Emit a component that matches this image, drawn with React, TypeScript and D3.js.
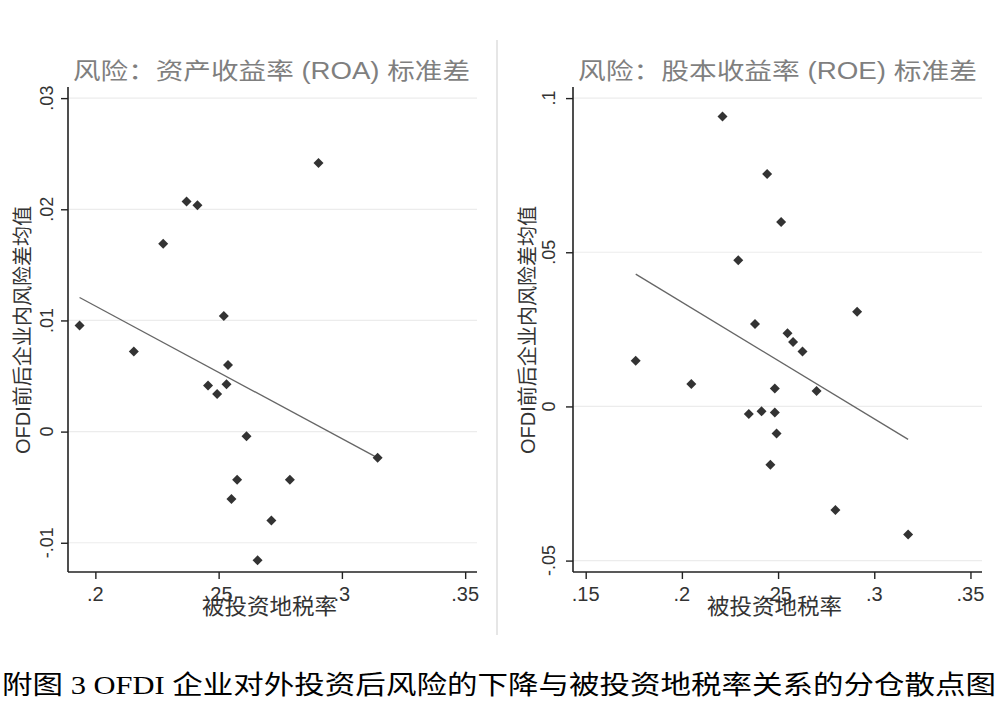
import * as d3 from "d3";
import React, { useEffect, useRef } from "react";

// 分仓散点：左图 ROA，右图 ROE
const roaTaxRate = [
  0.1936, 0.2156, 0.2275, 0.237, 0.2414, 0.2457, 0.2494, 0.2521, 0.2532,
  0.2538, 0.2552, 0.2575, 0.2613, 0.2658, 0.2714, 0.2789, 0.2905, 0.3145,
];
const roaRisk = [
  0.00954, 0.0072, 0.0169, 0.0207, 0.02036, 0.00415, 0.00339, 0.0104, 0.00426,
  0.006, -0.00607, -0.00434, -0.00041, -0.01158, -0.008, -0.00434, 0.02416,
  -0.00236,
];
const roaFit = { intercept: 0.03515, slope: -0.11927 };

const roeTaxRate = [
  0.176, 0.2049, 0.2211, 0.2293, 0.2348, 0.238, 0.2414, 0.2443, 0.246, 0.2483,
  0.2483, 0.2492, 0.2516, 0.2549, 0.2578, 0.2627, 0.27, 0.2798, 0.2911, 0.3176,
];
const roeRisk = [
  0.0148, 0.00724, 0.094, 0.0474, -0.00248, 0.0267, -0.0016, 0.0754, -0.0189,
  0.00585, -0.00195, -0.00875, 0.0598, 0.0237, 0.0209, 0.0178, 0.00497,
  -0.0336, 0.0307, -0.0415,
];
const roeFit = { intercept: 0.10952, slope: -0.3785 };

const roaXTicks = [0.2, 0.25, 0.3, 0.35];
const roaYTicks = [-0.01, 0, 0.01, 0.02, 0.03];
const roeXTicks = [0.15, 0.2, 0.25, 0.3, 0.35];
const roeYTicks = [-0.05, 0, 0.05, 0.1];

const titles = ["风险：资产收益率 (ROA) 标准差", "风险：股本收益率 (ROE) 标准差"];
const yLabel = "OFDI前后企业内风险差均值";
const xLabel = "被投资地税率";
const caption = "附图 3 OFDI 企业对外投资后风险的下降与被投资地税率关系的分仓散点图";

const sans = "'Liberation Sans', Arial, 'Noto Sans CJK SC', sans-serif";
const cjk = "'Liberation Sans', 'Noto Sans CJK SC', sans-serif";

// Stata 风格的刻度：去掉前导 0，普通连字符做负号
const stataFmt = (v: number) => {
  if (v === 0) return "0";
  const s = String(+Math.abs(v).toFixed(4)).replace(/^0\./, ".");
  return (v < 0 ? "-" : "") + s;
};

interface PanelProps {
  left: number;
  right: number;
  xDomain: [number, number];
  yDomain: [number, number];
  xs: number[];
  ys: number[];
  fit: { intercept: number; slope: number };
  xTicks: number[];
  yTicks: number[];
  title: string;
  titleX: number;
  titleLen: number;
  yLabelX: number;
  yTickOffset: number;
}

const top = 87;
const bottom = 572;

const Panel: React.FC<PanelProps> = (p) => {
  const ref = useRef<SVGGElement>(null);

  useEffect(() => {
    if (!ref.current) return;
    const g = d3.select(ref.current);
    g.selectAll("*").remove();

    const x = d3.scaleLinear().domain(p.xDomain).range([p.left, p.right]);
    const y = d3.scaleLinear().domain(p.yDomain).range([bottom, top]);

    // gridlines
    g.selectAll(".grid")
      .data(p.yTicks)
      .enter()
      .append("line")
      .attr("x1", p.left)
      .attr("x2", p.right)
      .attr("y1", (d) => y(d))
      .attr("y2", (d) => y(d))
      .attr("stroke", "#ececec")
      .attr("stroke-width", 1.2);

    // y axis
    const ya = g
      .append("g")
      .attr("transform", `translate(${p.left},0)`)
      .call(d3.axisLeft(y).tickValues(p.yTicks).tickSize(7).tickFormat(() => ""));
    ya.select(".domain").attr("d", `M-0,${top}V${bottom}`).attr("stroke", "#222").attr("stroke-width", 1.6);
    ya.selectAll(".tick line").attr("stroke", "#222").attr("stroke-width", 1.4);

    g.selectAll(".ytl")
      .data(p.yTicks)
      .enter()
      .append("text")
      .attr("transform", (d) => `translate(${p.left - p.yTickOffset},${y(d)}) rotate(-90)`)
      .attr("text-anchor", "middle")
      .attr("dy", "0.36em")
      .style("font-family", sans)
      .style("font-size", "18px")
      .attr("fill", "#333")
      .text((d) => stataFmt(d));

    // x axis
    const xa = g
      .append("g")
      .attr("transform", `translate(0,${bottom})`)
      .call(d3.axisBottom(x).tickValues(p.xTicks).tickSize(7).tickFormat(() => ""));
    xa.select(".domain").attr("d", `M${p.left},0H${p.right}`).attr("stroke", "#222").attr("stroke-width", 1.6);
    xa.selectAll(".tick line").attr("stroke", "#222").attr("stroke-width", 1.4);

    g.selectAll(".xtl")
      .data(p.xTicks)
      .enter()
      .append("text")
      .attr("x", (d) => x(d))
      .attr("y", 601)
      .attr("text-anchor", "middle")
      .style("font-family", sans)
      .style("font-size", "20px")
      .attr("fill", "#333")
      .text((d) => stataFmt(d));

    // fitted line
    const [x0, x1] = d3.extent(p.xs) as [number, number];
    const line = d3
      .line<number>()
      .x((d) => x(d))
      .y((d) => y(p.fit.intercept + p.fit.slope * d));
    g.append("path")
      .datum([x0, x1])
      .attr("d", line)
      .attr("fill", "none")
      .attr("stroke", "#666")
      .attr("stroke-width", 1.3);

    // markers
    const diamond = d3.symbol().type(d3.symbolSquare).size(50);
    g.selectAll(".pt")
      .data(p.xs.map((v, i) => [v, p.ys[i]]))
      .enter()
      .append("path")
      .attr("d", diamond)
      .attr("transform", (d) => `translate(${x(d[0])},${y(d[1])}) rotate(45)`)
      .attr("fill", "#333");

    // title
    g.append("text")
      .attr("x", p.titleX)
      .attr("y", 79)
      .attr("text-anchor", "middle")
      .attr("textLength", p.titleLen)
      .attr("lengthAdjust", "spacingAndGlyphs")
      .style("font-family", cjk)
      .style("font-size", "23px")
      .attr("fill", "#7f7f7f")
      .text(p.title);

    // y label
    g.append("text")
      .attr("transform", `translate(${p.yLabelX},330) rotate(-90)`)
      .attr("text-anchor", "middle")
      .attr("dy", "0.36em")
      .attr("textLength", 248)
      .attr("lengthAdjust", "spacingAndGlyphs")
      .style("font-family", cjk)
      .style("font-size", "20px")
      .attr("fill", "#333")
      .text(yLabel);

    // x label (sits partly over the tick labels, as in the original)
    const mid = (p.left + p.right) / 2 - 3;
    g.append("text")
      .attr("x", mid)
      .attr("y", 614)
      .attr("text-anchor", "middle")
      .attr("textLength", 135)
      .attr("lengthAdjust", "spacingAndGlyphs")
      .style("font-family", cjk)
      .style("font-size", "22px")
      .attr("fill", "#333")
      .text(xLabel);
  }, [p]);

  return <g ref={ref} />;
};

const App: React.FC = () => {
  return (
    <svg
      width={998}
      height={716}
      style={{ position: "absolute", left: 0, top: 0, background: "#fff" }}
    >
      <rect width={998} height={716} fill="#fff" />
      <line x1={497} x2={497} y1={40} y2={635} stroke="#e6e6e6" strokeWidth={2} />
      <Panel
        left={68}
        right={477}
        xDomain={[0.1889, 0.3548]}
        yDomain={[-0.01263, 0.031]}
        xs={roaTaxRate}
        ys={roaRisk}
        fit={roaFit}
        xTicks={roaXTicks}
        yTicks={roaYTicks}
        title={titles[0]}
        titleX={271.5}
        titleLen={397}
        yLabelX={23}
        yTickOffset={21}
      />
      <Panel
        left={573}
        right={982}
        xDomain={[0.1434, 0.356]}
        yDomain={[-0.0537, 0.1036]}
        xs={roeTaxRate}
        ys={roeRisk}
        fit={roeFit}
        xTicks={roeXTicks}
        yTicks={roeYTicks}
        title={titles[1]}
        titleX={777.5}
        titleLen={399}
        yLabelX={528}
        yTickOffset={24}
      />
      <text
        x={2}
        y={694}
        textLength={994}
        lengthAdjust="spacingAndGlyphs"
        style={{ fontFamily: "'Liberation Serif', 'Noto Sans CJK SC', serif", fontSize: "26px" }}
        fill="#000"
      >
        {caption}
      </text>
    </svg>
  );
};

export default App;
